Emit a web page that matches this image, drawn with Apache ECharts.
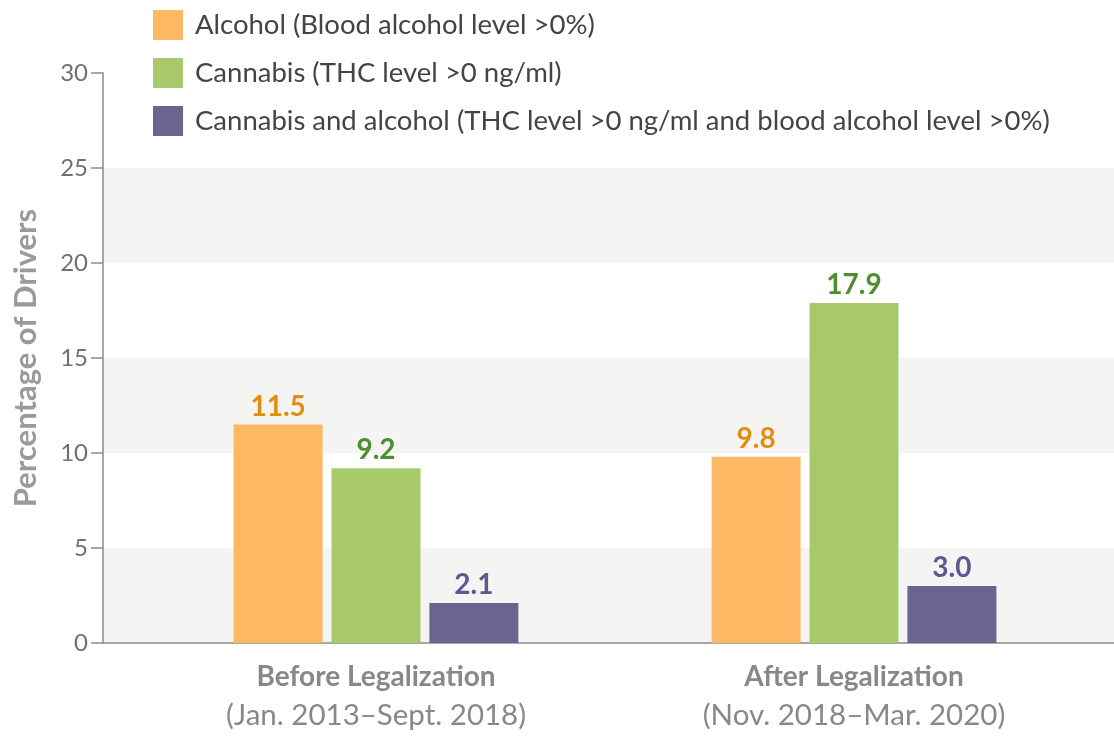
<!DOCTYPE html>
<html>
<head>
<meta charset="utf-8">
<script src="https://cdn.jsdelivr.net/npm/echarts@6/dist/echarts.min.js"></script>
<style>
  html, body { margin: 0; padding: 0; background: #fff; }
  #chart { width: 1114px; height: 737px; }
</style>
</head>
<body>
<div id="chart"></div>
<script>
// data
var categoryTitles = ['Before Legalization', 'After Legalization'];
var categoryPeriods = ['(Jan. 2013\u2013Sept. 2018)', '(Nov. 2018\u2013Mar. 2020)'];
var seriesNames = [
  'Alcohol (Blood alcohol level >0%)',
  'Cannabis (THC level >0 ng/ml)',
  'Cannabis and alcohol (THC level >0 ng/ml and blood alcohol level >0%)'
];
var alcohol = [11.5, 9.8];
var cannabis = [9.2, 17.9];
var both = [2.1, 3.0];
var yTicks = [0, 5, 10, 15, 20, 25, 30];

var barColors = ['#fdb863', '#a7c96c', '#6c6490'];
var labelColors = ['#e38d10', '#4f8d2d', '#5f5890'];
var font = 'Lato, "Open Sans", sans-serif';

var chart = echarts.init(document.getElementById('chart'));

function makeSeries(i, values) {
  return {
    name: seriesNames[i],
    type: 'bar',
    xAxisIndex: 1,
    yAxisIndex: 1,
    barWidth: 89,
    barGap: '10%',
    data: values,
    itemStyle: { color: barColors[i] },
    label: {
      show: true,
      position: 'top',
      distance: 4,
      formatter: function (p) { return p.value.toFixed(1); },
      color: labelColors[i],
      fontFamily: font,
      fontWeight: 'bold',
      fontSize: 28
    }
  };
}

var option = {
  backgroundColor: '#fff',
  animation: false,
  legend: {
    orient: 'vertical',
    left: 148,
    top: 5,
    itemWidth: 30,
    itemHeight: 30,
    itemGap: 18,
    icon: 'rect',
    selectedMode: false,
    data: seriesNames,
    textStyle: {
      color: '#444',
      fontFamily: font,
      fontSize: 27.5,
      padding: [0, 0, 0, 7]
    }
  },
  grid: [
    { left: 103, right: 0, top: 73, bottom: 94 },   // frame: bands + axes
    { left: 137, right: 21, top: 73, bottom: 94 }   // bars
  ],
  xAxis: [
    {
      type: 'value', gridIndex: 0, min: 0, max: 1,
      axisLine: { show: true, lineStyle: { color: '#8a8a8a', width: 1.5 } },
      axisTick: { show: false }, axisLabel: { show: false }, splitLine: { show: false }
    },
    {
      type: 'category', gridIndex: 1,
      data: categoryTitles,
      axisLine: { show: false }, axisTick: { show: false },
      axisLabel: {
        margin: 14,
        formatter: function (v, idx) {
          return '{t|' + v + '}\n{p|' + categoryPeriods[idx] + '}';
        },
        rich: {
          t: { fontFamily: font, fontWeight: 'bold', fontSize: 28, color: '#888', lineHeight: 39 },
          p: { fontFamily: font, fontSize: 29.5, color: '#888', lineHeight: 39 }
        }
      }
    }
  ],
  yAxis: [
    {
      type: 'value', gridIndex: 0,
      min: yTicks[0], max: yTicks[yTicks.length - 1], interval: 5,
      name: 'Percentage of Drivers',
      nameLocation: 'middle',
      nameGap: 62,
      nameTextStyle: { fontFamily: font, fontWeight: 'bold', fontSize: 31, color: '#9a9a9a' },
      axisLine: { show: true, lineStyle: { color: '#8a8a8a', width: 1.5 } },
      axisTick: { show: true, length: 12, lineStyle: { color: '#8a8a8a', width: 1.5 } },
      axisLabel: { margin: 15, fontFamily: font, fontSize: 24, color: '#707070' },
      splitLine: { show: false },
      splitArea: { show: true, areaStyle: { color: ['#f4f4f3', '#ffffff'] } }
    },
    {
      type: 'value', gridIndex: 1, min: 0, max: 30, show: false,
      splitLine: { show: false }
    }
  ],
  series: [
    makeSeries(0, alcohol),
    makeSeries(1, cannabis),
    makeSeries(2, both)
  ]
};

chart.setOption(option);
</script>
</body>
</html>
